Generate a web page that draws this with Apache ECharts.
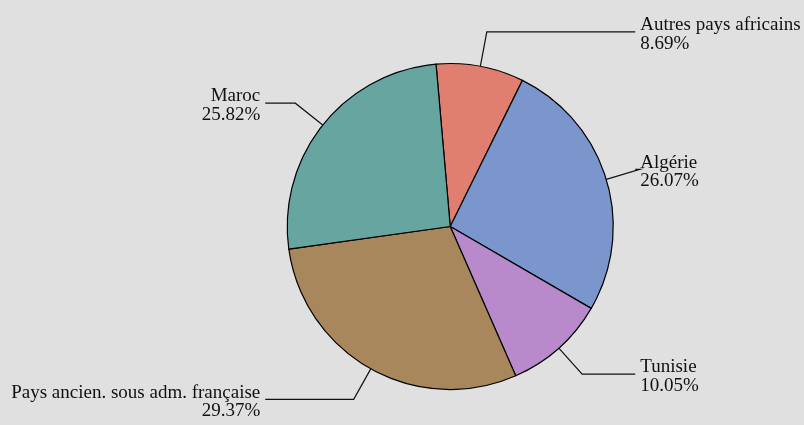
<!DOCTYPE html>
<html>
<head>
<meta charset="utf-8">
<script src="https://cdn.jsdelivr.net/npm/echarts@6/dist/echarts.min.js"></script>
<style>
html,body{margin:0;padding:0;background:#e0e0e0;}
#chart{width:804px;height:425px;}
</style>
</head>
<body>
<div id="chart"></div>
<script>
// Data (clockwise from the top)
const categories = ['Autres pays africains', 'Algérie', 'Tunisie', 'Pays ancien. sous adm. française', 'Maroc'];
const shares = [8.69, 26.07, 10.05, 29.37, 25.82];
const sliceColors = ['#e07f70', '#7b96cc', '#b88acc', '#a9875c', '#67a6a0'];

const CENTER = ['56%', '53.3%'];
const RADIUS = 163;
const LINE_END = 185;   // horizontal reach of leader lines from centre
const LABEL_GAP = 5;

const chart = echarts.init(document.getElementById('chart'), null, {renderer: 'canvas'});

const seriesData = categories.map((name, i) => ({
  name: name,
  value: shares[i],
  itemStyle: {color: sliceColors[i]}
}));

chart.setOption({
  backgroundColor: '#e0e0e0',
  animation: false,
  series: [{
    type: 'pie',
    center: CENTER,
    radius: RADIUS,
    startAngle: 95,
    clockwise: true,
    avoidLabelOverlap: false,
    data: seriesData,
    itemStyle: {borderColor: '#000', borderWidth: 1.2},
    emphasis: {disabled: true},
    label: {
      show: true,
      position: 'outside',
      formatter: p => p.name + '\n' + p.value.toFixed(2) + '%',
      fontFamily: 'Liberation Serif',
      fontSize: 19,
      lineHeight: 18.5,
      color: '#111'
    },
    labelLine: {
      show: true,
      length: 35,
      length2: 10,
      smooth: false,
      lineStyle: {color: '#111', width: 1.2}
    },
    labelLayout: function (p) {
      const pts = p.labelLinePoints;
      if (!pts) return {};
      const cx = chart.getWidth() * parseFloat(CENTER[0]) / 100;
      const right = pts[1][0] > cx;
      const endX = right ? cx + LINE_END : cx - LINE_END;
      const y = pts[1][1];
      return {
        x: right ? endX + LABEL_GAP : endX - LABEL_GAP,
        y: y + 2.5,
        align: right ? 'left' : 'right',
        verticalAlign: 'middle',
        labelLinePoints: [pts[0], pts[1], [endX, y]]
      };
    }
  }]
});
</script>
</body>
</html>
